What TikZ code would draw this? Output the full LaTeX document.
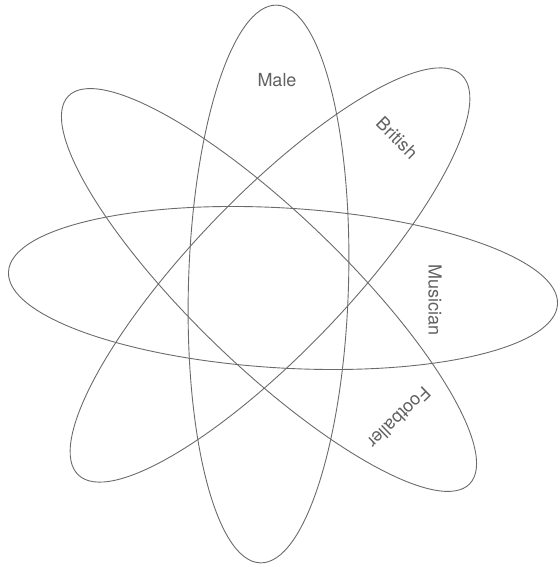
\documentclass[tikz,border=0pt]{standalone}
\usepackage{fontspec}
\setmainfont{TeX Gyre Heros}
\begin{document}
\begin{tikzpicture}[x=1pt,y=1pt,
  ell/.style={draw=black!58, line width=0.9pt},
  lbl/.style={text=black!62, font=\fontsize{18}{21}\selectfont, inner sep=0pt}]
\useasboundingbox (0,0) rectangle (559,567);
% Male (vertical)
\draw[ell, rotate around={88.3:(268.5,283)}] (268.5,283) ellipse [x radius=279, y radius=80];
% Musician (horizontal)
\draw[ell, rotate around={-3.4:(283,279)}] (283,279) ellipse [x radius=275, y radius=80];
% British
\draw[ell, rotate around={46.2:(270,292)}] (270,292) ellipse [x radius=277, y radius=78];
% Footballer
\draw[ell, rotate around={-44:(269,277)}] (269,277) ellipse [x radius=279, y radius=76];
\node[lbl] (male) at (277,487) {Male};
\node[lbl, rotate=-45] (brit) at (397,429) {British};
\node[lbl, rotate=-90] (mus) at (435,267) {Musician};
\node[lbl, rotate=-136] (foot) at (399,149) {Footballer};
\end{tikzpicture}
\end{document}
